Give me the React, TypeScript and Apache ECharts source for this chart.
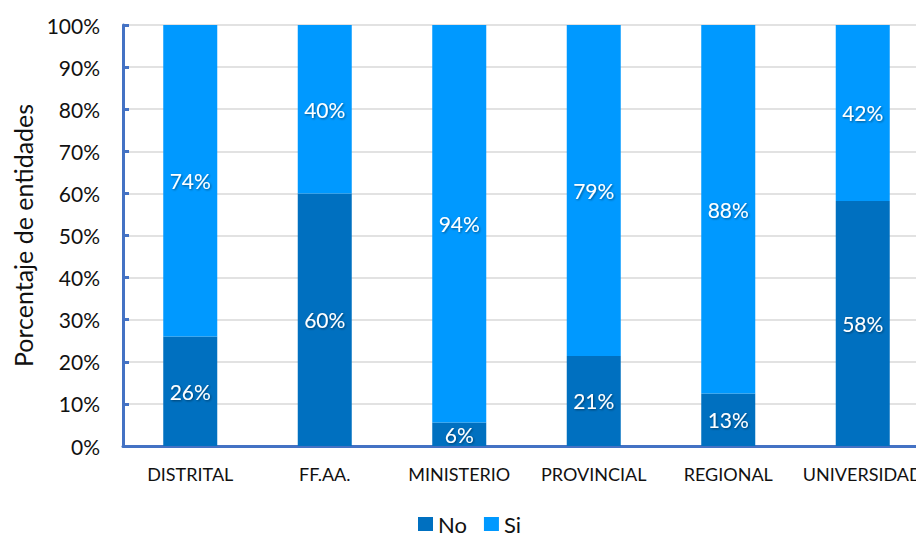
import React, { useEffect, useRef } from "react";
import * as echarts from "echarts";

const categories = ["DISTRITAL", "FF.AA.", "MINISTERIO", "PROVINCIAL", "REGIONAL", "UNIVERSIDAD"];
const noValues = [26, 60, 5.6, 21.4, 12.5, 58.2];
const siValues = [74, 40, 94.4, 78.6, 87.5, 41.8];
const yTicks = [0, 10, 20, 30, 40, 50, 60, 70, 80, 90, 100];

const FONT = "Lato, 'Open Sans', sans-serif";
const AXIS_BLUE = "#4472C4";

export default function App() {
  const ref = useRef<HTMLDivElement>(null);
  useEffect(() => {
    if (!ref.current) return;
    const chart = echarts.init(ref.current, undefined, { renderer: "svg" });
    const labelCfg = {
      show: true,
      position: "inside",
      color: "#ffffff",
      fontSize: 21,
      fontFamily: FONT,
      textShadowColor: "rgba(0,0,0,0.45)",
      textShadowBlur: 2,
      textShadowOffsetX: 1,
      textShadowOffsetY: 1,
      formatter: (p: any) => Math.round(p.value) + "%",
    };
    chart.setOption({
      animation: false,
      textStyle: { fontFamily: FONT },
      grid: { left: 123, right: 0, top: 25, bottom: 90, containLabel: false },
      legend: {
        data: ["No", "Si"],
        top: 513,
        left: 418,
        padding: 0,
        itemWidth: 15,
        itemHeight: 14,
        itemGap: 17,
        icon: "rect",
        textStyle: { fontSize: 22, lineHeight: 22, color: "#111", fontFamily: FONT },
      },
      xAxis: {
        type: "category",
        data: categories,
        axisLine: { show: true, lineStyle: { color: AXIS_BLUE, width: 3 } },
        axisTick: { show: false },
        axisLabel: { color: "#111", fontSize: 18, margin: 19, fontFamily: FONT, interval: 0 },
      },
      yAxis: {
        type: "value",
        min: 0,
        max: 100,
        interval: 10,
        name: "Porcentaje de entidades",
        nameLocation: "middle",
        nameGap: 86,
        nameTextStyle: { fontSize: 25, color: "#111", fontFamily: FONT },
        axisLine: { show: true, lineStyle: { color: AXIS_BLUE, width: 3 } },
        axisTick: { show: true, inside: true, length: 6, lineStyle: { color: AXIS_BLUE, width: 3 } },
        axisLabel: {
          color: "#111",
          fontSize: 21,
          margin: 23,
          fontFamily: FONT,
          formatter: (v: number) => (yTicks.includes(v) ? v + "%" : ""),
        },
        splitLine: { show: true, lineStyle: { color: "#D9D9D9", width: 1.5 } },
      },
      series: [
        {
          name: "No",
          type: "bar",
          stack: "total",
          data: noValues,
          barWidth: 54,
          itemStyle: { color: "#0070C0" },
          label: labelCfg,
        },
        {
          name: "Si",
          type: "bar",
          stack: "total",
          data: siValues,
          barWidth: 54,
          itemStyle: { color: "#0099FF" },
          label: labelCfg,
        },
      ],
    });
    return () => chart.dispose();
  }, []);
  return (
    <div style={{ position: "absolute", left: 0, top: 0, width: 916, height: 536, overflow: "hidden", background: "#fff" }}>
      <div ref={ref} style={{ width: 930, height: 536 }} />
    </div>
  );
}
